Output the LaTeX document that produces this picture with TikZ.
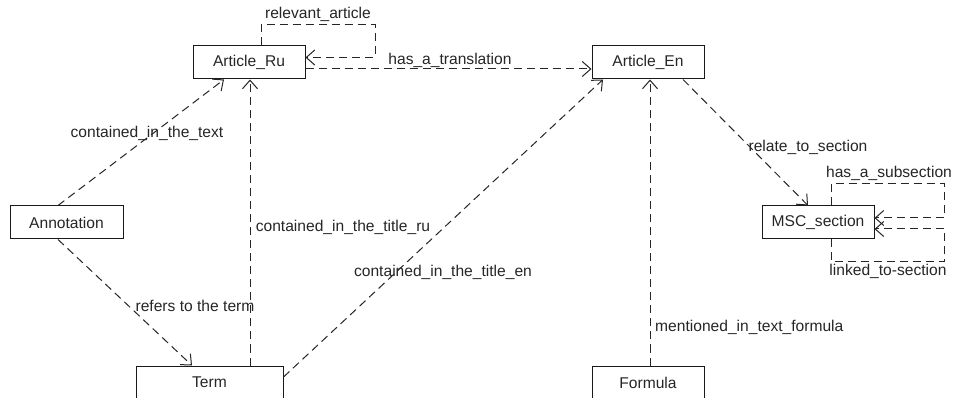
\documentclass[tikz,border=0pt]{standalone}
\usepackage{fontspec}
\setmainfont{Liberation Sans}
\usetikzlibrary{arrows.meta}
\begin{document}
\begin{tikzpicture}[x=1pt,y=-1pt,
  every node/.style={font=\fontsize{15.6}{18}\selectfont, text=black!85},
  cls/.style={draw=black!90, line width=1pt, fill=white, minimum height=33pt, inner sep=0pt},
  lbl/.style={inner sep=0pt},
  dep/.style={draw=black!85, line width=1pt, dash pattern=on 8pt off 5pt,
    -{Straight Barb[length=8.5pt,width=15pt,line width=1pt]}}
]
\useasboundingbox (0,0) rectangle (954,398);
\clip (0,0) rectangle (954,398);
\fill[white] (0,0) rectangle (954,398);

% classes
\node[cls, minimum width=112pt] (ru) at (249,62.5) {Article\_Ru};
\node[cls, minimum width=112pt] (en) at (648,62.5) {Article\_En};
\node[cls, minimum width=112pt] (msc) at (818,222.5) {MSC\_section};
\node[cls, minimum width=113pt] (ann) at (66.5,222.5) {Annotation};
\node[cls, minimum width=147pt] (term) at (209.5,382.5) {Term};
\node[cls, minimum width=112pt] (form) at (648,382.5) {Formula};

% loop corners
\coordinate (ruA) at (375,25);
\coordinate (mscA) at (944,184);
\coordinate (mscB) at (944,262);

% connectors
\draw[dep] ([xshift=12pt]ru.north) |- (ruA) |- ([yshift=5pt]ru.east);
\draw[dep] ([yshift=-6.5pt]ru.east) -- ([yshift=-6.5pt]en.west);
\draw[dep] ([xshift=-8.5pt]ann.north) -- ([xshift=-25pt]ru.south);
\draw[dep] ([xshift=40.5pt]term.north) -- ([xshift=1pt]ru.south);
\draw[dep] ([yshift=5.5pt]term.east) -- ([xshift=-45pt]en.south);
\draw[dep] ([xshift=-8.5pt]ann.south) -- ([xshift=-17.5pt]term.north);
\draw[dep] ([xshift=2pt]form.north) -- ([xshift=2pt]en.south);
\draw[dep] ([xshift=35pt]en.south) -- ([xshift=-10pt]msc.north);
\draw[dep] ([xshift=13pt]msc.north) |- (mscA) |- ([yshift=4.5pt]msc.east);
\draw[dep] ([xshift=13pt]msc.south) |- (mscB) |- ([yshift=-6.5pt]msc.east);

% labels
\node[lbl] (l1) at (318,14) {relevant\_article};
\node[lbl] (l2) at (450,60) {has\_a\_translation};
\node[lbl] (l3) at (147,133) {contained\_in\_the\_text};
\node[lbl] (l4) at (343,227) {contained\_in\_the\_title\_ru};
\node[lbl] (l5) at (443,272) {contained\_in\_the\_title\_en};
\node[lbl] (l6) at (195,306) {refers to the term};
\node[lbl, anchor=west] (l7) at (655,327) {mentioned\_in\_text\_formula};
\node[lbl] (l8) at (808,147) {relate\_to\_section};
\node[lbl] (l9) at (889,173) {has\_a\_subsection};
\node[lbl] (l10) at (888,271) {linked\_to-section};
\end{tikzpicture}
\end{document}
